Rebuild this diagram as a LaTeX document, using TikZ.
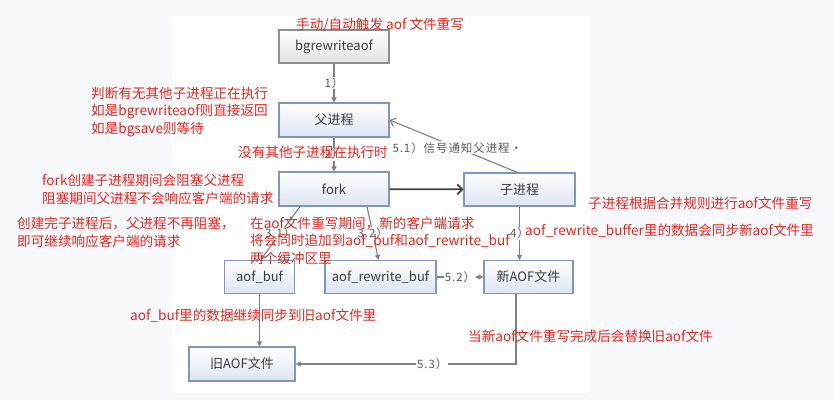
\documentclass[tikz,border=0pt]{standalone}
\usepackage{fontspec}
\setmainfont{Noto Sans CJK SC}
\newfontfamily\lblfont[LetterSpace=8]{Noto Sans CJK SC}
\usetikzlibrary{arrows.meta}

\definecolor{notered}{HTML}{E8261E}
\definecolor{boxline}{HTML}{7E97BE}
\definecolor{boxbot}{HTML}{DCE5F2}
\definecolor{grayline}{HTML}{8E8E8E}
\definecolor{graybot}{HTML}{E2E2E2}
\definecolor{boxtext}{HTML}{3C3C3C}
\definecolor{wire}{HTML}{7F7F7F}
\definecolor{lbl}{HTML}{5A5A5A}
\definecolor{pagebg}{HTML}{F7F8FC}

\tikzset{
  box/.style={draw=boxline, line width=1.1pt, top color=white, bottom color=boxbot,
    text=boxtext, font=\fontsize{13}{15}\selectfont, inner sep=0pt, anchor=center},
  graybox/.style={box, draw=grayline, bottom color=graybot},
  wirearrow/.style={draw=wire, line width=1.1pt, -{Triangle[length=5pt,width=5pt]}},
  barbarrow/.style={draw=wire, line width=1.1pt, -{Straight Barb[length=5pt,width=9pt]}},
  strongarrow/.style={draw=black!75, line width=1.7pt, -{Straight Barb[length=5pt,width=10pt]}},
  steplabel/.style={fill=white, inner sep=1pt, text=lbl, font=\lblfont\fontsize{11.5}{13}\selectfont},
  % multi-line notes are placed by the baseline of their last line
  note/.style={text=notered, font=\fontsize{13.6}{17.5}\selectfont, align=left, anchor=base west, inner sep=0pt},
}

\begin{document}
\begin{tikzpicture}[x=1pt, y=-1pt]
  % page and central panel
  \fill[pagebg] (0,0) rectangle (833,400);
  \fill[white] (171,16) rectangle (590,393);
  \useasboundingbox (0,0) rectangle (833,400);

  % process boxes
  \node[graybox, minimum width=110pt, minimum height=33pt] (bg)   at (334,46.5)  {bgrewriteaof};
  \node[box, minimum width=110pt, minimum height=34pt]     (par)  at (334,120)   {父进程};
  \node[box, minimum width=110pt, minimum height=34pt]     (fork) at (334,189)   {fork};
  \node[box, minimum width=111pt, minimum height=33pt]     (chl)  at (519.5,189.5) {子进程};
  \node[box, minimum width=70pt, minimum height=33pt]      (ab)   at (259.5,277) {aof\_buf};
  \node[box, minimum width=111pt, minimum height=33pt]     (arb)  at (380.5,277) {aof\_rewrite\_buf};
  \node[box, minimum width=89pt, minimum height=33pt]      (naof) at (528.5,277) {新AOF文件};
  \node[box, minimum width=106pt, minimum height=34pt]     (oaof) at (242,364)   {旧AOF文件};

  % connectors
  \draw[wirearrow] (bg) -- node[steplabel] {1）} (par);
  \draw[wirearrow] (par) -- node[steplabel, pos=0.5] {2）} (fork);
  \draw[strongarrow] (fork) -- (chl);
  \draw[barbarrow] ([xshift=-2pt]chl.north) -- node[steplabel, pos=0.47] {5.1）信号通知父进程·} (par.east);
  \draw[wirearrow] ([xshift=-34pt]fork.south) -- node[steplabel, pos=0.5] {3.1）} ([xshift=1pt]ab.north);
  \draw[wirearrow] ([xshift=33pt]fork.south) -- node[steplabel, pos=0.5] {3.2）} ([xshift=-2pt]arb.north);
  \draw[wirearrow] (chl.south) -- node[steplabel] {4）} (chl.south |- naof.north);
  \draw[wirearrow] (arb) -- node[steplabel] {5.2）} (naof);
  \draw[wirearrow] (ab.south) -- (ab.south |- oaof.north);
  \draw[wirearrow] ([xshift=-12.5pt]naof.south) |- node[steplabel, pos=0.69] {5.3）} (oaof.east);

  % notes
  \node[note] (n1) at (296,29) {手动/自动触发 aof 文件重写};
  \node[note] (n2) at (91,133) {判断有无其他子进程正在执行\\如是bgrewriteaof则直接返回\\如是bgsave则等待};
  \node[note] (n3) at (238,157) {没有其他子进程在执行时};
  \node[note] (n4) at (42,203) {fork创建子进程期间会阻塞父进程\\阻塞期间父进程不会响应客户端的请求};
  \node[note] (n5) at (17,246) {创建完子进程后，父进程不再阻塞，\\即可继续响应客户端的请求};
  \node[note] (n6) at (250,263) {在aof文件重写期间，新的客户端请求\\将会同时追加到aof\_buf和aof\_rewrite\_buf\\两个缓冲区里};
  \node[note] (n7) at (588,208) {子进程根据合并规则进行aof文件重写};
  \node[note] (n8) at (525,235) {aof\_rewrite\_buffer里的数据会同步新aof文件里};
  \node[note] (n9) at (130,320) {aof\_buf里的数据继续同步到旧aof文件里};
  \node[note] (n10) at (468,341) {当新aof文件重写完成后会替换旧aof文件};
\end{tikzpicture}
\end{document}
